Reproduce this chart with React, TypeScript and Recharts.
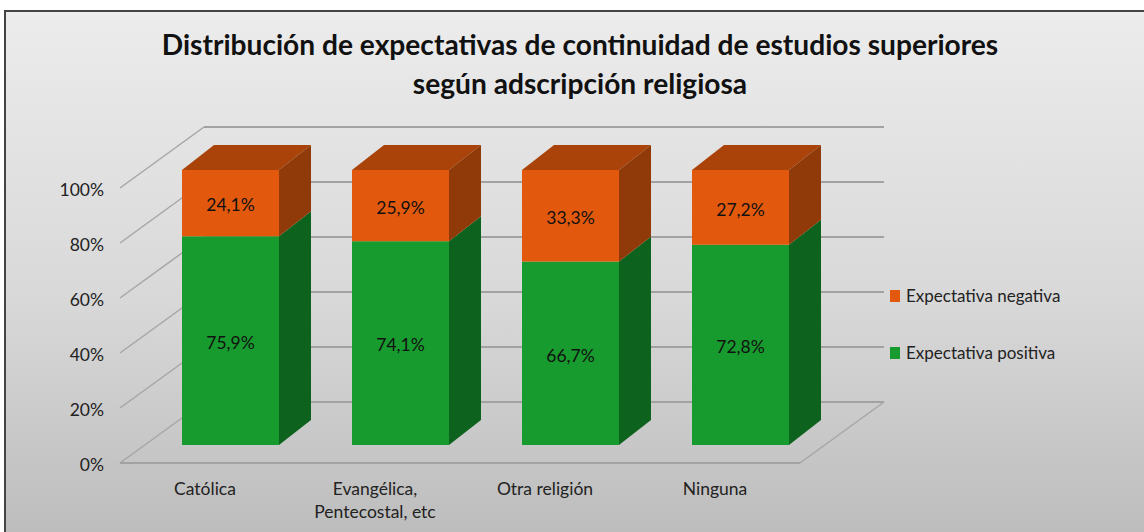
import { BarChart, Bar, XAxis, YAxis, CartesianGrid, Legend, LabelList } from "recharts";

const categories = ["Católica", "Evangélica,\nPentecostal, etc", "Otra religión", "Ninguna"];
const positiva = [75.9, 74.1, 66.7, 72.8];
const negativa = [24.1, 25.9, 33.3, 27.2];
const yTicks = [0, 20, 40, 60, 80, 100];

const data = categories.map((name, i) => ({ name, positiva: positiva[i], negativa: negativa[i] }));

const FONT = "Lato, 'Open Sans', sans-serif";
const DEPTH_X = 32;
const DEPTH_Y = 25;

// front face plus the extruded side, and the lid only on the top segment
const Block = ({ x, y, width, height, front, side, lid }: any) => (
  <g>
    {lid && (
      <polygon
        points={`${x},${y} ${x + DEPTH_X},${y - DEPTH_Y} ${x + width + DEPTH_X},${y - DEPTH_Y} ${x + width},${y}`}
        fill={lid}
      />
    )}
    <polygon
      points={`${x + width},${y} ${x + width + DEPTH_X},${y - DEPTH_Y} ${x + width + DEPTH_X},${y + height - DEPTH_Y} ${x + width},${y + height}`}
      fill={side}
    />
    <rect x={x} y={y} width={width} height={height} fill={front} />
  </g>
);

// wall line, side diagonal and (for 0%) the floor edges
const WallLine = ({ y1 }: any) => {
  const back = y1 - 43;
  const front = y1 + 18;
  const isFloor = Math.abs(y1 - 445) < 1;
  return (
    <g key={`wall-${y1}`} fill="none">
      <line x1={120} y1={front} x2={204} y2={back} stroke="#a6a6a6" strokeWidth={1.5} />
      <line x1={204} y1={back} x2={884} y2={back} stroke="#a2a2a2" strokeWidth={2} />
      {isFloor && (
        <>
          <line x1={120} y1={front} x2={800} y2={front} stroke="#a2a2a2" strokeWidth={2} />
          <line x1={800} y1={front} x2={884} y2={back} stroke="#a6a6a6" strokeWidth={1.5} />
        </>
      )}
    </g>
  );
};

const PercentTick = ({ y, payload }: any) => (
  <text x={104} y={y + 26} textAnchor="end" fontFamily={FONT} fontSize={17.5} fill="#222">
    {payload.value}%
  </text>
);

const CategoryTick = ({ x, payload }: any) => (
  <text textAnchor="middle" fontFamily={FONT} fontSize={17.5} fill="#222">
    {String(payload.value)
      .split("\n")
      .map((line: string, i: number) => (
        <tspan key={line} x={x - 25} y={495 + i * 23}>
          {line}
        </tspan>
      ))}
  </text>
);

const LegendBox = ({ payload }: any) => (
  <div style={{ fontFamily: FONT, fontSize: 17, color: "#222" }}>
    {(payload || []).map((item: any) => (
      <div key={item.value} style={{ display: "flex", alignItems: "center", height: 57 }}>
        <span style={{ width: 10, height: 12, background: item.color, marginRight: 6 }} />
        {item.value}
      </div>
    ))}
  </div>
);

const percentLabel = (v: any) => `${String(v).replace(".", ",")}%`;

export default function App() {
  return (
    <div
      style={{
        position: "fixed",
        left: 0,
        top: 0,
        width: 1144,
        height: 532,
        background: "#fff",
        overflow: "hidden",
      }}
    >
      <div
        style={{
          position: "absolute",
          left: 4,
          top: 10,
          width: 1140,
          height: 530,
          boxSizing: "border-box",
          borderLeft: "2px solid #444",
          borderTop: "2px solid #444",
          background: "linear-gradient(180deg, #ececec 0%, #d8d8d8 55%, #bcbcbc 100%)",
        }}
      />
      <div
        style={{
          position: "absolute",
          left: 0,
          top: 25,
          width: 1160,
          textAlign: "center",
          fontFamily: FONT,
          fontWeight: 700,
          fontSize: 28.15,
          lineHeight: "39px",
          color: "#111",
        }}
      >
        Distribución de expectativas de continuidad de estudios superiores
        <br />
        según adscripción religiosa
      </div>
      <div style={{ position: "absolute", left: 0, top: 0 }}>
        <BarChart
          width={1144}
          height={532}
          data={data}
          margin={{ top: 170, right: 319, bottom: 57, left: 0 }}
          barSize={97}
        >
          <CartesianGrid vertical={false} horizontal={(p: any) => <WallLine {...p} />} />
          <XAxis dataKey="name" axisLine={false} tickLine={false} tick={<CategoryTick />} interval={0} />
          <YAxis
            type="number"
            domain={[0, 100]}
            ticks={yTicks}
            width={145}
            axisLine={false}
            tickLine={false}
            tick={<PercentTick />}
          />
          <Legend
            verticalAlign="middle"
            align="center"
            layout="vertical"
            content={<LegendBox />}
            wrapperStyle={{ left: 890, top: 267, width: 220 }}
          />
          <Bar
            dataKey="positiva"
            name="Expectativa positiva"
            stackId="a"
            fill="#189b2e"
            isAnimationActive={false}
            shape={(p: any) => <Block {...p} front="#189b2e" side="#0d631d" />}
          >
            <LabelList
              dataKey="positiva"
              position="center"
              formatter={percentLabel}
              dy={2}
              style={{ fontFamily: FONT, fontSize: 17.5, fill: "#111" }}
            />
          </Bar>
          <Bar
            dataKey="negativa"
            name="Expectativa negativa"
            stackId="a"
            fill="#e2590d"
            isAnimationActive={false}
            shape={(p: any) => <Block {...p} front="#e2590d" side="#8f3a08" lid="#aa430a" />}
          >
            <LabelList
              dataKey="negativa"
              position="center"
              formatter={percentLabel}
              dy={2}
              style={{ fontFamily: FONT, fontSize: 17.5, fill: "#111" }}
            />
          </Bar>
        </BarChart>
      </div>
    </div>
  );
}
